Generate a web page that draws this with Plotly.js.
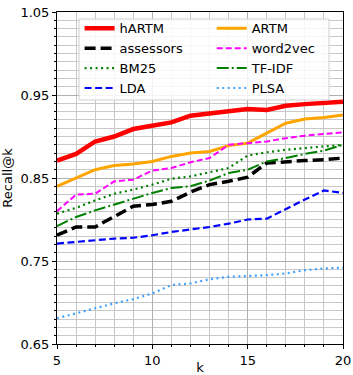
<!DOCTYPE html>
<html>
<head>
<meta charset="utf-8">
<script src="https://cdn.plot.ly/plotly-3.0.1.min.js"></script>
<style>html,body{margin:0;padding:0;background:#fff;}#chart{width:353px;height:375px;}</style>
</head>
<body>
<div id="chart"></div>
<script>
const k = [5,6,7,8,9,10,11,12,13,14,15,16,17,18,19,20];
const hARTM     = [0.871,0.879,0.894,0.900,0.909,0.913,0.917,0.925,0.928,0.931,0.933,0.932,0.937,0.939,0.940,0.942];
const ARTM      = [0.840,0.850,0.860,0.865,0.867,0.870,0.876,0.880,0.882,0.889,0.892,0.904,0.916,0.921,0.923,0.926];
const assessors = [0.781,0.791,0.791,0.804,0.816,0.818,0.822,0.833,0.842,0.846,0.851,0.868,0.870,0.871,0.872,0.874];
const word2vec  = [0.810,0.830,0.831,0.846,0.848,0.859,0.862,0.869,0.874,0.890,0.892,0.894,0.898,0.901,0.903,0.905];
const BM25      = [0.807,0.814,0.823,0.831,0.836,0.842,0.849,0.852,0.857,0.862,0.877,0.881,0.884,0.886,0.888,0.890];
const TFIDF     = [0.792,0.803,0.811,0.818,0.825,0.832,0.838,0.840,0.847,0.856,0.860,0.870,0.874,0.879,0.883,0.890];
const LDA       = [0.771,0.773,0.775,0.777,0.778,0.781,0.785,0.788,0.791,0.795,0.800,0.801,0.813,0.824,0.835,0.832];
const PLSA      = [0.681,0.687,0.693,0.699,0.704,0.711,0.721,0.723,0.728,0.731,0.732,0.733,0.735,0.739,0.741,0.742];

function tr(name, y, color, width, dash, leg) {
  return {x: k, y: y, name: name, type: 'scatter', mode: 'lines', legend: leg,
          line: {color: color, width: width, dash: dash}};
}
const data = [
  tr('hARTM', hARTM, '#ff0000', 4.5, 'solid', 'legend'),
  tr('assessors', assessors, '#000000', 3.5, '11px,5px', 'legend'),
  tr('BM25', BM25, '#008000', 2.2, '2px,3.5px', 'legend'),
  tr('LDA', LDA, '#0000ff', 2.2, '7px,3.5px', 'legend'),
  tr('ARTM', ARTM, '#ffa500', 3, 'solid', 'legend2'),
  tr('word2vec', word2vec, '#ff00ff', 2, '6px,3px', 'legend2'),
  tr('TF-IDF', TFIDF, '#008000', 2, '12px,3px,2px,3px', 'legend2'),
  tr('PLSA', PLSA, '#3fa2ff', 2.2, '2px,3.5px', 'legend2')
];

const font = {family: 'DejaVu Sans, sans-serif', size: 13, color: '#000'};
const legFont = {family: 'DejaVu Sans, sans-serif', size: 13, color: '#000'};
const legCommon = {
  orientation: 'v', yanchor: 'top', xanchor: 'left', y: 0.996,
  bgcolor: 'rgba(0,0,0,0)', borderwidth: 0, font: legFont,
  tracegroupgap: 0, itemwidth: 30
};
const layout = {
  width: 353, height: 375,
  margin: {l: 57, r: 10, t: 12, b: 31},
  paper_bgcolor: '#fff', plot_bgcolor: '#fff',
  font: font,
  showlegend: true,
  legend: Object.assign({}, legCommon, {x: 0.079}),
  legend2: Object.assign({}, legCommon, {x: 0.541}),
  shapes: [{
    type: 'rect', xref: 'paper', yref: 'paper', layer: 'above',
    x0: 0.077, x1: 0.951, y0: 0.735, y1: 0.979,
    fillcolor: 'rgba(255,255,255,0.85)', line: {color: '#d0d0d0', width: 1}
  }],
  xaxis: {
    range: [5, 20], tick0: 5, dtick: 5, showgrid: true, gridcolor: '#b0b0b0', gridwidth: 1,
    ticks: 'outside', ticklen: 4, tickcolor: '#000',
    showline: true, linecolor: '#000', linewidth: 1, mirror: true, zeroline: false,
    minor: {dtick: 1, showgrid: true, gridcolor: '#c8c8c8', gridwidth: 1, ticks: 'outside', ticklen: 2, tickcolor: '#000'},
    title: {text: 'k', font: font, standoff: 2},
    tickfont: font
  },
  yaxis: {
    range: [0.65, 1.05], tick0: 0.65, dtick: 0.1, tickformat: '.2f',
    showgrid: true, gridcolor: '#b0b0b0', gridwidth: 1,
    ticks: 'outside', ticklen: 4, tickcolor: '#000',
    showline: true, linecolor: '#000', linewidth: 1, mirror: true, zeroline: false,
    minor: {dtick: 0.01, showgrid: true, gridcolor: '#c8c8c8', gridwidth: 1, ticks: 'outside', ticklen: 2, tickcolor: '#000'},
    title: {text: 'Recall@k', font: font, standoff: 4},
    tickfont: font
  }
};
Plotly.newPlot('chart', data, layout, {displayModeBar: false, staticPlot: true});
</script>
</body>
</html>
